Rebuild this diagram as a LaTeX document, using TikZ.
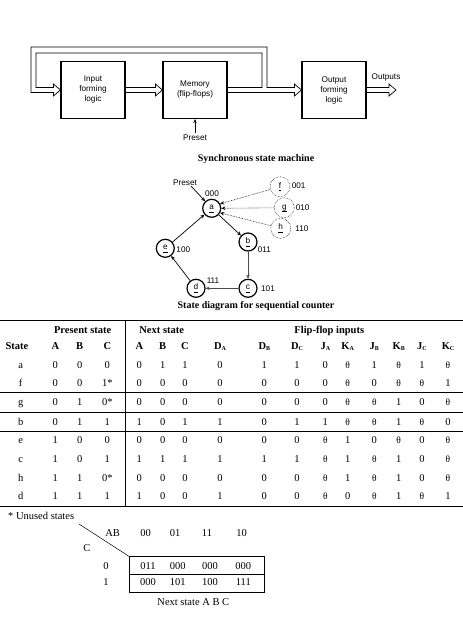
\documentclass[tikz,border=0pt]{standalone}
\usepackage{fontspec}
\setmainfont{Liberation Serif}
\setsansfont{Liberation Sans}
\usetikzlibrary{arrows.meta,calc}
\newcommand{\dc}{{\fontsize{9.5}{10}\selectfont θ}}
\newcommand{\subs}[2]{#1\raisebox{-1.5pt}{\fontsize{6}{6}\selectfont #2}}
\newcommand{\ul}[1]{\underline{\raisebox{0pt}[6pt][1pt]{#1}}}
\newcommand{\dblarrow}[2]{%
  \draw[pipe] ($(#1)+(0,-2.5)$) -- ($(#2)+(-7,-2.5)$) -- ($(#2)+(-7,-6)$) -- (#2) -- ($(#2)+(-7,6)$) -- ($(#2)+(-7,2.5)$) -- ($(#1)+(0,2.5)$);}
\tikzset{
  blockbox/.style={draw,line width=1.1pt,minimum width=64pt,minimum height=57pt,inner sep=0pt,align=center,font=\sffamily\fontsize{8.2}{10}\selectfont},
  sans/.style={inner sep=0pt,font=\sffamily\fontsize{8.2}{10}\selectfont},
  pipe/.style={line width=0.7pt,line join=miter},
  stat/.style={circle,draw,line width=1.2pt,minimum size=18pt,inner sep=0pt,font=\sffamily\fontsize{8.2}{10}\selectfont},
  unused/.style={circle,draw,densely dotted,line width=0.5pt,minimum size=20pt,inner sep=0pt,font=\sffamily\fontsize{8.2}{10}\selectfont},
  flow/.style={line width=0.7pt,-{Stealth[length=4pt,width=3.5pt]}},
  flowthick/.style={flow,line width=1pt,draw=black!70},
  dots/.style={densely dotted,line width=0.6pt,-{Stealth[length=4pt,width=3.5pt]}},
  caption/.style={inner sep=0pt,font=\bfseries\fontsize{10}{12}\selectfont},
  cell/.style={inner sep=0pt,text height=7pt,text depth=0.4pt,font=\fontsize{10.5}{12}\selectfont},
  head/.style={inner sep=0pt,text height=7pt,text depth=0.4pt,font=\bfseries\fontsize{10.5}{12}\selectfont},
  rule/.style={line width=0.9pt},
}
\begin{document}
\begin{tikzpicture}[x=1pt,y=-1pt]
\useasboundingbox (0,0) rectangle (463,624);
% block diagram
\node[blockbox] (inp) at (93,90) {Input\\forming\\logic};
\node[blockbox] (mem) at (195,90) {Memory\\(flip-flops)};
\node[blockbox] (out) at (334,90) {Output\\forming\\logic};
\coordinate (outend) at (396,90);
\dblarrow{inp.east}{mem.west}
\dblarrow{out.east}{outend}
% feedback: two lines of the pipe, leaving memory
\draw[pipe] ($(mem.east)+(0,-2.5)$) -- (262,87.5) -- (262,53) -- (36,53) -- (36,87.5) -- ($(inp.west)+(-7,-2.5)$) -- ($(inp.west)+(-7,-6)$) -- (inp.west) -- ($(inp.west)+(-7,6)$) -- ($(inp.west)+(-7,2.5)$) -- (31,92.5) -- (31,47) -- (267,47) -- (267,87.5) -- ($(out.west)+(-7,-2.5)$) -- ($(out.west)+(-7,-6)$) -- (out.west) -- ($(out.west)+(-7,6)$) -- ($(out.west)+(-7,2.5)$) -- ($(mem.east)+(0,2.5)$);
\node[sans] (outs) at (386,77) {Outputs};
\node[sans] (pres) at (195,138) {Preset};
\draw[flow] (pres.north) ++(0,-2) coordinate (pt) (pt) -- (mem.south);
\node[caption] (cap1) at (256,159.5) {Synchronous state machine};
% state diagram
\node[stat] (a) at (211.7,208.3) {\ul{a}};
\node[stat] (b) at (248,242) {\ul{b}};
\node[stat] (c) at (248,288.3) {\ul{c}};
\node[stat] (d) at (196,288.3) {\ul{d}};
\node[stat] (e) at (165.3,248.3) {\ul{e}};
\node[unused] (f) at (280,186.7) {\ul{f}};
\node[unused] (g) at (284.3,207.7) {\ul{g}};
\node[unused] (h) at (280.7,228.3) {\ul{h}};
\node[sans] (presb) at (185,183) {Preset};
\draw[flow] (presb.south east) ++(-6,0) coordinate (pb) (pb) -- (a);
\draw[flow] (a) -- (b);
\draw[flowthick] (b) -- (c);
\draw[flowthick] (c) -- (d);
\draw[flow] (d) -- (e);
\draw[flow] (e) -- (a);
\draw[dots] (f) -- (a.28);
\draw[dots] (g) -- (a.east);
\draw[dots] (h) -- (a.-28);
\node[sans] (la) at (212,194) {000};
\node[sans] (lf) at (298.7,186) {001};
\node[sans] (lg) at (302.7,208) {010};
\node[sans] (lh) at (302,229) {110};
\node[sans] (lb) at (264.3,249.3) {011};
\node[sans] (lc) at (268,289) {101};
\node[sans] (ld) at (213,280.7) {111};
\node[sans] (le) at (183.3,249.3) {100};
\node[caption] (cap2) at (256,306.5) {State diagram for sequential counter};
% table
\foreach \y in {320.7,392.3,412.3,431.3,506}{\draw[rule] (0,\y) -- (463,\y);}
\draw[rule] (125.7,320.7) -- (125.7,506);
\foreach \x [count=\i] in {20.7,55.3,79.7,107.3,139.3,162.7,185,220,264.3,297,325.3,347.7,374.3,398.7,422,448}{
  \coordinate (col\i) at (\x,0);
}
\node[head] (h1) at (82.7,330) {Present state};
\node[head] (h2) at (161.7,330) {Next state};
\node[head] (h3) at (329.3,330) {Flip-flop inputs};
\node[head] (hs) at (17,346) {State};
\foreach \t [count=\i from 2] in {A,B,C,A,B,C,\subs{D}{A},\subs{D}{B},\subs{D}{C},\subs{J}{A},\subs{K}{A},\subs{J}{B},\subs{K}{B},\subs{J}{C},\subs{K}{C}}{
  \node[head] (hc\i) at (col\i |- 0,346) {\t};
}
\foreach \y/\vals [count=\r] in {
 365/{a,0,0,0,0,1,1,0,1,1,0,\dc,1,\dc,1,\dc},
 383.3/{f,0,0,1*,0,0,0,0,0,0,0,\dc,0,\dc,\dc,1},
 402.3/{g,0,1,0*,0,0,0,0,0,0,0,\dc,\dc,1,0,\dc},
 421.7/{b,0,1,1,1,0,1,1,0,1,1,\dc,\dc,1,\dc,0},
 440.3/{e,1,0,0,0,0,0,0,0,0,\dc,1,0,\dc,0,\dc},
 459/{c,1,0,1,1,1,1,1,1,1,\dc,1,\dc,1,0,\dc},
 477.7/{h,1,1,0*,0,0,0,0,0,0,\dc,1,\dc,1,0,\dc},
 496/{d,1,1,1,1,0,0,1,0,0,\dc,0,\dc,1,\dc,1}}{
  \foreach \v [count=\i] in \vals {
    \node[cell] (t\r-\i) at (col\i |- 0,\y) {\v};
  }
}
% map
\node[cell,anchor=west] (star) at (8,515.7) {* Unused states};
\node[cell] (ab) at (112.7,533.3) {AB};
\node[cell] (cc) at (87,547.7) {C};
\foreach \t/\x in {00/145.7,01/175,11/207,10/241.7}{\node[cell] (m\t) at (\x,533.3) {\t};}
\node[draw,line width=0.9pt,minimum width=135pt,minimum height=36pt,inner sep=0pt] (map) at (196.8,574.7) {};
\draw[line width=1.4pt] (map.north east) -- (map.south east);
\draw[line width=0.8pt] (map.west) -- (map.east);
\coordinate (diag) at (79,524);
\draw[line width=0.5pt] (diag) -- (map.north west);
\node[cell] (r0) at (106,565.7) {0};
\node[cell] (r1) at (106,582.3) {1};
\foreach \t/\x/\n in {011/148/a,000/177.7/b,000/210/c,000/243.3/d}{\node[cell] (p\n) at (\x,565.7) {\t};}
\foreach \t/\x/\n in {000/148/a,101/177.7/b,100/210/c,111/243.3/d}{\node[cell] (q\n) at (\x,582.3) {\t};}
\node[cell] (ns) at (193.3,602.3) {Next state A B C};
\end{tikzpicture}
\end{document}
